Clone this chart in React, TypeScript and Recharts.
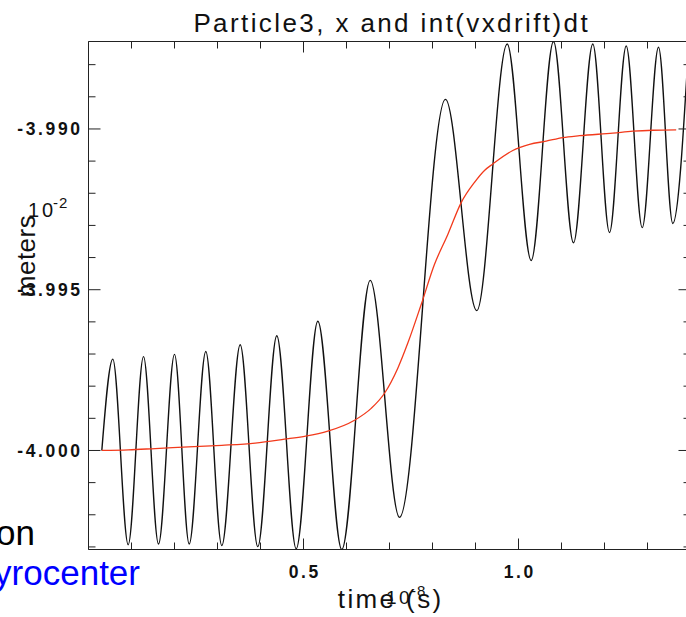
import React from "react";
import { LineChart, Line, XAxis, YAxis, ReferenceArea } from "recharts";

// time in units of 1e-8 s, position in units of 1e-2 m
const orbitT = [
  0.031, 0.0565, 0.0923, 0.1279, 0.1628, 0.2, 0.2342, 0.2728, 0.31, 0.3528,
  0.3937, 0.4379, 0.483, 0.5333, 0.589, 0.6551, 0.7233, 0.8302, 0.903, 0.9737,
  1.0295, 1.0814, 1.1279, 1.1728, 1.2116, 1.2505, 1.2877, 1.3256, 1.3588, 1.3953,
];
const orbitX = [
  -4.0, -3.99716, -4.00293, -3.99708, -4.00291, -3.99701, -4.00291, -3.99692,
  -4.00296, -3.99671, -4.00299, -3.99643, -4.00306, -3.99598, -4.00308,
  -3.99471, -4.00208, -3.98908, -3.99565, -3.98736, -3.99409, -3.98728,
  -3.99354, -3.98736, -3.99322, -3.98742, -3.99307, -3.98746, -3.99294, -3.98748,
];

// integrated drift (gyrocenter)
const driftT = [
  0.031, 0.093, 0.1551, 0.2326, 0.31, 0.3877, 0.4558, 0.5023, 0.5565, 0.6186,
  0.6574, 0.6884, 0.7193, 0.7426, 0.7737, 0.8047, 0.8356, 0.8667, 0.8977,
  0.9209, 0.9402, 0.9867, 1.0256, 1.0644, 1.103, 1.1419, 1.2193, 1.2658,
  1.3123, 1.3667,
];
const driftX = [
  -4.0, -3.99998, -3.99994, -3.99989, -3.99984, -3.99977, -3.99965, -3.99956,
  -3.9994, -3.99906, -3.99869, -3.99822, -3.99744, -3.99666, -3.99546,
  -3.99421, -3.99328, -3.99229, -3.99166, -3.99129, -3.99109, -3.99067,
  -3.99048, -3.99038, -3.99027, -3.99021, -3.99013, -3.99007, -3.99004, -3.99003,
];

const xTicks = [0, 0.1, 0.2, 0.3, 0.4, 0.5, 0.6, 0.7, 0.8, 0.9, 1.0, 1.1, 1.2, 1.3, 1.4];
const xMajor = [0.5, 1.0];
const yTicks = [
  -4.003, -4.002, -4.001, -4.0, -3.999, -3.998, -3.997, -3.996, -3.995,
  -3.994, -3.993, -3.992, -3.991, -3.99, -3.989, -3.988,
];
const yMajor = [-4.0, -3.995, -3.99];

const X_MIN = 0;
const X_MAX = 1.4;
const Y_MIN = -4.00308;
const Y_MAX = -3.98728;

const orbit = orbitT.map((t, i) => ({ t, x: orbitX[i] }));
const drift = driftT.map((t, i) => ({ t, x: driftX[i] }));

// plot frame (px)
const TOP = 41.5;
const BOTTOM = 549.5;
const LEFT = 88.5;
const RIGHT = 690.5;

const FONT = "'Liberation Sans', Arial, Helvetica, sans-serif";
const TICK_LS = 2.6;
const TITLE_LS = 2.4;

const isMajor = (list: number[], v: number) => list.some((m) => Math.abs(m - v) < 1e-7);

const XTick = (props: any) => {
  const { x, payload } = props;
  const major = isMajor(xMajor, payload.value);
  const len = major ? 11 : 7;
  return (
    <g>
      <line x1={x} x2={x} y1={BOTTOM} y2={BOTTOM - len} stroke="#222" />
      <line x1={x} x2={x} y1={TOP} y2={TOP + len} stroke="#222" />
      {major && (
        <text
          x={x + TICK_LS / 2}
          y={578}
          textAnchor="middle"
          fontFamily={FONT}
          fontWeight="bold"
          fontSize={17.5}
          letterSpacing={TICK_LS}
          fill="#111"
        >
          {payload.value.toFixed(1)}
        </text>
      )}
    </g>
  );
};

const YTick = (props: any) => {
  const { y, payload } = props;
  const major = isMajor(yMajor, payload.value);
  const len = major ? 12 : 7;
  return (
    <g>
      <line x1={LEFT} x2={LEFT + len} y1={y} y2={y} stroke="#222" />
      <line x1={RIGHT} x2={RIGHT - len} y1={y} y2={y} stroke="#222" />
      {major && (
        <text
          x={80 + TICK_LS}
          y={y + 6.5}
          textAnchor="end"
          fontFamily={FONT}
          fontWeight="bold"
          fontSize={17.5}
          letterSpacing={TICK_LS}
          fill="#111"
        >
          {payload.value.toFixed(3)}
        </text>
      )}
    </g>
  );
};

export default function App() {
  return (
    <div
      style={{
        position: "fixed",
        left: 0,
        top: 0,
        width: 686,
        height: 617,
        overflow: "hidden",
        background: "#fff",
      }}
    >
      <LineChart
        width={700}
        height={617}
        margin={{ top: TOP, right: 700 - RIGHT, bottom: 0, left: 0.5 }}
      >
        <XAxis
          dataKey="t"
          type="number"
          domain={[X_MIN, X_MAX]}
          ticks={xTicks}
          interval={0}
          allowDataOverflow
          height={617 - BOTTOM}
          axisLine={false}
          tickLine={false}
          tick={<XTick />}
        />
        <YAxis
          type="number"
          domain={[Y_MIN, Y_MAX]}
          ticks={yTicks}
          interval={0}
          allowDataOverflow
          width={LEFT - 0.5}
          axisLine={false}
          tickLine={false}
          tick={<YTick />}
        />
        <ReferenceArea
          x1={X_MIN}
          x2={X_MAX}
          y1={Y_MIN}
          y2={Y_MAX}
          fill="none"
          fillOpacity={0}
          stroke="#222"
          strokeWidth={1}
        />
        <Line
          data={orbit}
          dataKey="x"
          type="monotone"
          stroke="#111"
          strokeWidth={1.4}
          dot={false}
          isAnimationActive={false}
        />
        <Line
          data={drift}
          dataKey="x"
          type="monotone"
          stroke="#f23a1c"
          strokeWidth={1.3}
          dot={false}
          isAnimationActive={false}
        />
      </LineChart>

      <svg
        width={686}
        height={617}
        style={{ position: "absolute", left: 0, top: 0, pointerEvents: "none" }}
      >
        <text
          x={390.5 + TITLE_LS / 2}
          y={32}
          textAnchor="middle"
          fontFamily={FONT}
          fontSize={26}
          letterSpacing={TITLE_LS}
          fill="#111"
        >
          Particle3, x and int(vxdrift)dt
        </text>
        <text
          x={389.5 + TITLE_LS / 2}
          y={608}
          textAnchor="middle"
          fontFamily={FONT}
          fontSize={26}
          letterSpacing={TITLE_LS}
          fill="#111"
        >
          time (s)
        </text>
        <text x={386} y={604} fontFamily={FONT} fontSize={19} letterSpacing={2.5} fill="#111">
          10
        </text>
        <text x={411} y={596} fontFamily={FONT} fontSize={15} letterSpacing={1} fill="#111">
          -8
        </text>
        <text
          transform="translate(35 256) rotate(-90)"
          textAnchor="middle"
          fontFamily={FONT}
          fontSize={26}
          letterSpacing={0.5}
          fill="#111"
        >
          meters
        </text>
        <text x={28} y={217} fontFamily={FONT} fontSize={20} letterSpacing={3} fill="#111">
          10
        </text>
        <text x={53} y={208} fontFamily={FONT} fontSize={15} letterSpacing={1} fill="#111">
          -2
        </text>
        <text x={35} y={545} textAnchor="end" fontFamily={FONT} fontSize={35} fill="#000">
          position
        </text>
        <text x={140} y={585} textAnchor="end" fontFamily={FONT} fontSize={35} fill="#0000ff">
          gyrocenter
        </text>
      </svg>
    </div>
  );
}
